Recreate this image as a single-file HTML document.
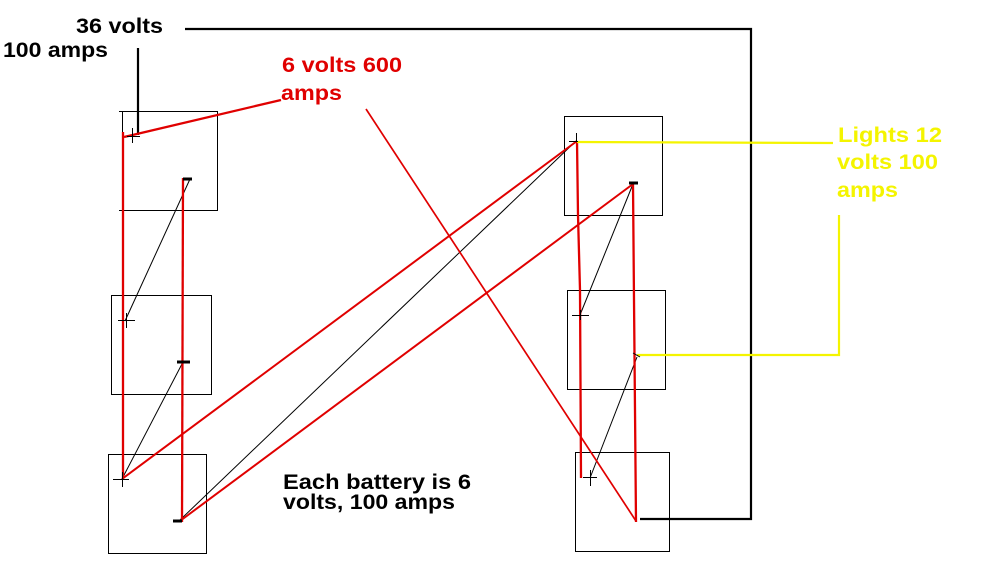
<!DOCTYPE html>
<html>
<head>
<meta charset="utf-8">
<style>
  html, body { margin: 0; padding: 0; background: #fff; }
  body { width: 1000px; height: 562px; overflow: hidden; }
  svg { display: block; }
  text { font-family: "Liberation Sans", Arial, sans-serif; font-weight: bold; font-size: 21px; }
</style>
</head>
<body>
<svg width="1000" height="562" viewBox="0 0 1000 562" xmlns="http://www.w3.org/2000/svg">
  <rect width="1000" height="562" fill="#fff"/>

  <!-- battery boxes -->
  <g fill="none" stroke="#000" stroke-width="1" shape-rendering="crispEdges">
    <rect x="122.5" y="111.5" width="95" height="99"/>
    <line x1="119" y1="111.5" x2="123" y2="111.5"/>
    <line x1="119" y1="210.5" x2="123" y2="210.5"/>
    <rect x="111.5" y="295.5" width="100" height="99"/>
    <rect x="108.5" y="454.5" width="98" height="99"/>
    <rect x="564.5" y="116.5" width="98" height="99"/>
    <rect x="567.5" y="290.5" width="98" height="99"/>
    <rect x="575.5" y="452.5" width="94" height="99"/>
  </g>

  <!-- black thick wire -->
  <g fill="none" stroke="#000" stroke-width="2.2">
    <path d="M185,29 H751 V519 H640"/>
    <line x1="138" y1="48" x2="138" y2="135"/>
  </g>

  <!-- thin black links -->
  <g stroke="#000" stroke-width="1" fill="none">
    <line x1="190" y1="179" x2="125" y2="321"/>
    <line x1="183" y1="362" x2="122" y2="479"/>
    <line x1="180" y1="520" x2="576" y2="141"/>
    <line x1="633" y1="184" x2="580" y2="315"/>
    <line x1="637" y1="357" x2="590" y2="478"/>
  </g>

  <!-- red wires -->
  <g stroke="#e00000" fill="none" stroke-width="2.3">
    <line x1="123" y1="132" x2="123" y2="480"/>
    <line x1="183" y1="178" x2="182" y2="522"/>
    <line x1="124" y1="137" x2="281" y2="100"/>
    <path d="M577,141 L578,215 L580,290 L581,478"/>
    <path d="M633,184 L634,300 L635,410 L636,522"/>
  </g>
  <g stroke="#e00000" fill="none" stroke-width="2">
    <line x1="122" y1="479" x2="577" y2="141"/>
    <line x1="180" y1="521" x2="633" y2="184"/>
  </g>
  <line x1="366" y1="109" x2="636" y2="521" stroke="#e00000" stroke-width="1.7"/>

  <!-- yellow wires -->
  <g stroke="#f4f400" fill="none" stroke-width="2.2">
    <line x1="577" y1="142" x2="833" y2="143"/>
    <path d="M839,215 V355 H637"/>
  </g>

  <!-- negative terminal dashes -->
  <g stroke="#000" stroke-width="3">
    <line x1="183" y1="179" x2="192" y2="179"/>
    <line x1="177" y1="362" x2="190" y2="362"/>
    <line x1="173" y1="521" x2="182" y2="521"/>
    <line x1="629" y1="183" x2="638" y2="183"/>
  </g>
  <g stroke="#000" stroke-width="1" fill="none">
    <path d="M633,353 L640,357"/>
  </g>

  <!-- positive terminal plus signs -->
  <g stroke="#000" stroke-width="1" shape-rendering="crispEdges">
    <line x1="132.5" y1="128" x2="132.5" y2="143"/>
    <line x1="127" y1="136.5" x2="140" y2="136.5"/>
    <line x1="126.5" y1="313" x2="126.5" y2="328"/>
    <line x1="118" y1="320.5" x2="135" y2="320.5"/>
    <line x1="122.5" y1="472" x2="122.5" y2="487"/>
    <line x1="113" y1="479.5" x2="129" y2="479.5"/>
    <line x1="576.5" y1="133" x2="576.5" y2="142"/>
    <line x1="569" y1="141.5" x2="578" y2="141.5"/>
    <line x1="572" y1="315.5" x2="589" y2="315.5"/>
    <line x1="580.5" y1="310" x2="580.5" y2="320"/>
    <line x1="583" y1="477.5" x2="597" y2="477.5"/>
    <line x1="590.5" y1="470" x2="590.5" y2="486"/>
  </g>

  <!-- labels -->
  <text x="76" y="33" fill="#000" textLength="87" lengthAdjust="spacingAndGlyphs">36 volts</text>
  <text x="3" y="57" fill="#000" textLength="105" lengthAdjust="spacingAndGlyphs">100 amps</text>
  <text x="282" y="72" fill="#e00000" textLength="120" lengthAdjust="spacingAndGlyphs">6 volts 600</text>
  <text x="281" y="100" fill="#e00000" textLength="61" lengthAdjust="spacingAndGlyphs">amps</text>
  <text x="838" y="142" fill="#f4f400" textLength="104" lengthAdjust="spacingAndGlyphs">Lights 12</text>
  <text x="837" y="169" fill="#f4f400" textLength="101" lengthAdjust="spacingAndGlyphs">volts 100</text>
  <text x="837" y="197" fill="#f4f400" textLength="61" lengthAdjust="spacingAndGlyphs">amps</text>
  <text x="283" y="489" fill="#000" textLength="188" lengthAdjust="spacingAndGlyphs">Each battery is 6</text>
  <text x="283" y="509" fill="#000" textLength="172" lengthAdjust="spacingAndGlyphs">volts, 100 amps</text>
</svg>
</body>
</html>
